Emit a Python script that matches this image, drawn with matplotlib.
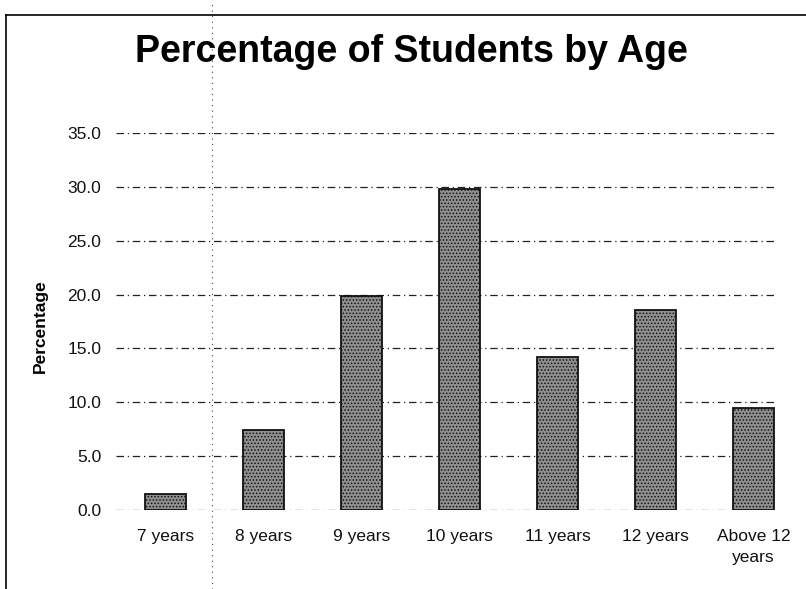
import matplotlib.pyplot as plt
from matplotlib.lines import Line2D

ages = ["7 years", "8 years", "9 years", "10 years", "11 years", "12 years", "Above 12\nyears"]
percent = [1.5, 7.4, 19.9, 29.8, 14.2, 18.6, 9.5]
yticks = [0, 5, 10, 15, 20, 25, 30, 35]

plt.rcParams['font.family'] = ['Liberation Sans', 'DejaVu Sans']
plt.rcParams['hatch.color'] = '#333333'
plt.rcParams['hatch.linewidth'] = 0.7

fig = plt.figure(figsize=(8.06, 5.89), dpi=100)
ax = fig.add_axes([0.1445, 0.1341, 0.851, 0.6401])

# dashed gridlines, drawn behind the bars
for v in yticks:
    ax.axhline(v, xmin=0, xmax=0.96, color='#222222', linewidth=0.9,
               linestyle=(0, (6, 3, 1, 3)), zorder=1)

x = range(len(ages))
ax.bar(x, percent, width=0.42, facecolor='#8f8f8f', edgecolor='#111111',
       linewidth=1.3, hatch='.....', zorder=3)

ax.set_xlim(-0.5, len(ages) - 0.5)
ax.set_ylim(0, 35)
ax.set_yticks(yticks)
ax.set_yticklabels([f"{v:.1f}" for v in yticks])
ax.set_xticks(list(x))
ax.set_xticklabels(ages, linespacing=1.5, va='top')
ax.tick_params(axis='y', length=0, pad=11, labelsize=12.5, labelcolor='#111111')
ax.tick_params(axis='x', length=0, pad=14, labelsize=12.5, labelcolor='#111111')
for s in ax.spines.values():
    s.set_visible(False)

fig.text(0.5105, 0.912, "Percentage of Students by Age", ha='center', va='center',
         fontsize=27, fontweight='bold')
fig.text(0.05, 0.447, "Percentage", rotation=90, ha='center', va='center',
         fontsize=12.5, fontweight='bold')

# outer frame lines and the dotted fold line of the scanned page
fig.add_artist(Line2D([0.008, 1.0], [0.975, 0.975], color='black', linewidth=1.2))
fig.add_artist(Line2D([0.008, 0.008], [0.0, 0.975], color='black', linewidth=1.2))
fig.add_artist(Line2D([0.263, 0.263], [0.0, 1.0], color='#444444', linewidth=0.8,
                      linestyle=(0, (1, 4))))

plt.savefig("out.png", dpi=100)
